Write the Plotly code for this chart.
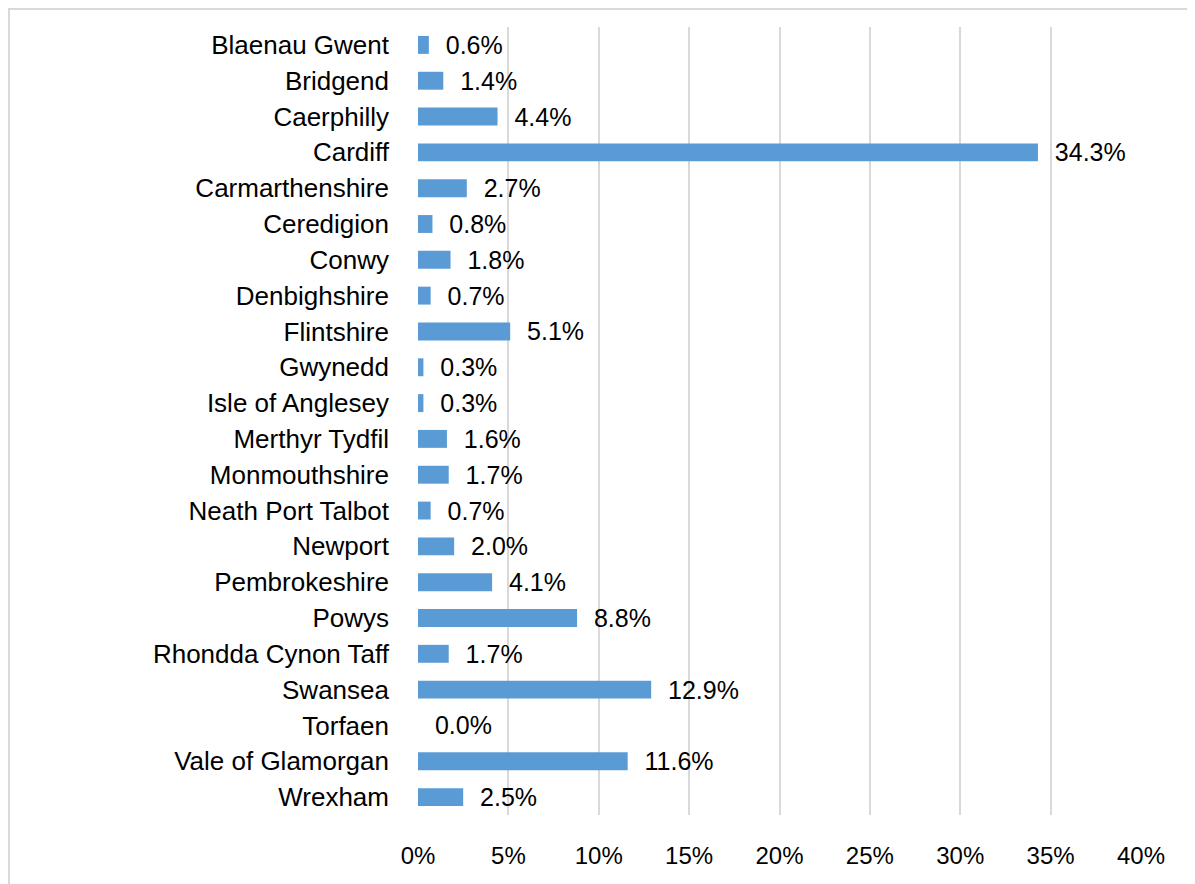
import plotly.graph_objects as go

categories = ["Blaenau Gwent", "Bridgend", "Caerphilly", "Cardiff", "Carmarthenshire",
              "Ceredigion", "Conwy", "Denbighshire", "Flintshire", "Gwynedd",
              "Isle of Anglesey", "Merthyr Tydfil", "Monmouthshire", "Neath Port Talbot",
              "Newport", "Pembrokeshire", "Powys", "Rhondda Cynon Taff", "Swansea",
              "Torfaen", "Vale of Glamorgan", "Wrexham"]
values = [0.6, 1.4, 4.4, 34.3, 2.7, 0.8, 1.8, 0.7, 5.1, 0.3, 0.3, 1.6, 1.7, 0.7,
          2.0, 4.1, 8.8, 1.7, 12.9, 0.0, 11.6, 2.5]
tick_vals = [0, 5, 10, 15, 20, 25, 30, 35, 40]
tick_text = ["0%", "5%", "10%", "15%", "20%", "25%", "30%", "35%", "40%"]

# page body has an 8px margin; figure is sized to fit the 1195x884 window
OFF = 8
W, H = 1195 - OFF, 884 - OFF
L, R, T, B = 418 - OFF, 1141 - OFF, 27 - OFF, 815 - OFF
FONT = "Liberation Sans"

fig = go.Figure(go.Bar(
    y=categories, x=values, orientation="h",
    marker=dict(color="#5b9bd5", line=dict(width=0)),
    text=[f"\u00a0\u00a0{v:.1f}%" for v in values],
    textposition="outside", cliponaxis=False, constraintext="none",
    textfont=dict(family=FONT, size=25, color="#000000"),
    hoverinfo="skip",
))

def px2paper_x(p):
    return (p - L) / (R - L)

def px2paper_y(p):
    return (B - p) / (B - T)

fig.update_layout(
    width=W, height=H,
    margin=dict(l=L, r=W - R, t=T, b=H - B, pad=0),
    paper_bgcolor="white", plot_bgcolor="white",
    bargap=0.5, showlegend=False,
    font=dict(family=FONT, size=25, color="#000000"),
    xaxis=dict(range=[0, 40], tickvals=tick_vals, ticktext=tick_text,
               showgrid=True, gridcolor="#d9d9d9", gridwidth=1.5,
               zeroline=False, showline=False, ticks="",
               ticklabelstandoff=24,
               tickfont=dict(family=FONT, size=24, color="#000000")),
    yaxis=dict(autorange="reversed", showgrid=False, zeroline=False,
               showline=False, ticks="", ticklabelstandoff=28,
               tickfont=dict(family=FONT, size=26, color="#000000")),
    shapes=[dict(type="rect", xref="paper", yref="paper",
                 x0=px2paper_x(1), x1=px2paper_x(W + 10),
                 y0=px2paper_y(H + 10), y1=px2paper_y(1),
                 line=dict(color="#d9d9d9", width=2), fillcolor="rgba(0,0,0,0)",
                 layer="below")],
)

fig.write_html("out.html")
